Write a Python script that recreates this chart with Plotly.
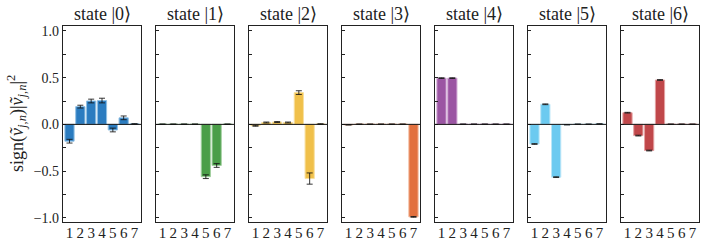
import plotly.graph_objects as go

components = [1, 2, 3, 4, 5, 6, 7]
state_names = ["state |0⟩", "state |1⟩", "state |2⟩", "state |3⟩", "state |4⟩", "state |5⟩", "state |6⟩"]

state0 = [-0.18, 0.19, 0.25, 0.255, -0.06, 0.07, 0.005]
state1 = [0.002, 0.002, 0.002, 0.002, -0.56, -0.44, 0.002]
state2 = [-0.015, 0.02, 0.025, 0.02, 0.34, -0.58, 0.004]
state3 = [-0.005, 0.002, 0.002, 0.002, 0.002, 0.002, -0.99]
state4 = [0.495, 0.495, 0.002, 0.002, 0.002, 0.002, 0.002]
state5 = [-0.21, 0.215, -0.565, -0.004, 0.002, 0.002, 0.005]
state6 = [0.125, -0.12, -0.28, 0.475, 0.002, 0.002, 0.002]

err0 = [0.02, 0.015, 0.02, 0.025, 0.02, 0.02, 0.002]
err1 = [0.002, 0.002, 0.002, 0.002, 0.02, 0.02, 0.002]
err2 = [0.005, 0.005, 0.005, 0.005, 0.02, 0.06, 0.002]
err3 = [0.002, 0.002, 0.002, 0.002, 0.002, 0.002, 0.004]
err4 = [0.004, 0.004, 0.001, 0.001, 0.001, 0.001, 0.001]
err5 = [0.004, 0.004, 0.004, 0.001, 0.001, 0.001, 0.001]
err6 = [0.004, 0.004, 0.004, 0.004, 0.001, 0.001, 0.001]

y_tickvals = [-1.0, -0.5, 0.0, 0.5, 1.0]
y_ticktext = ["−1.0", "−0.5", "0.0", "0.5", "1.0"]

values = [state0, state1, state2, state3, state4, state5, state6]
errors = [err0, err1, err2, err3, err4, err5, err6]

colors = ["#2b7cc0", "#4a9e48", "#f0c04a", "#e2703e", "#9b55a3", "#6ccaf0", "#c0474a"]
edge_colors = ["#8fbfe3", "#a3d0a0", "#f8e0a0", "#f2b596", "#cfa6d3", "#b9e6f8", "#e4a0a2"]

W, H = 706, 247
panels = [(63, 141), (156, 234), (249, 327), (342, 420), (435, 513), (528, 606), (621, 699)]
font_family = "Liberation Serif"

fig = go.Figure()
layout = dict(
    width=W, height=H,
    margin=dict(l=0, r=0, t=26, b=25),
    plot_bgcolor="white", paper_bgcolor="white",
    showlegend=False,
    font=dict(family=font_family, size=14, color="#222"),
)
annotations = []
shapes = []
for i in range(7):
    xa = "x" if i == 0 else f"x{i+1}"
    ya = "y" if i == 0 else f"y{i+1}"
    fig.add_trace(go.Bar(
        x=components, y=values[i], xaxis=xa, yaxis=ya, width=0.85,
        marker=dict(color=colors[i], line=dict(color=edge_colors[i], width=1)),
        error_y=dict(type="data", array=errors[i], color="rgba(20,20,20,0.85)", thickness=1, width=3),
    ))
    x0, x1 = panels[i]
    layout["xaxis" if i == 0 else f"xaxis{i+1}"] = dict(
        domain=[x0 / W, x1 / W], range=[0.4, 7.6], anchor=ya,
        tickmode="array", tickvals=components, ticktext=[str(c) for c in components],
        ticks="", ticklabelstandoff=-3, showgrid=False, zeroline=False, showline=True, mirror=True,
        linecolor="#222", linewidth=1.2, tickfont=dict(size=15, family=font_family),
    )
    yax = dict(
        domain=[0, 1], range=[-1.045, 1.053], anchor=xa,
        tickmode="array", tickvals=y_tickvals,
        showticklabels=(i == 0),
        ticks="inside", ticklen=3, tickcolor="#222",
        minor=dict(tickvals=[-0.75, -0.25, 0.25, 0.75], ticks="inside", ticklen=3, tickcolor="#222"),
        showgrid=False, zeroline=False, showline=True, mirror=True,
        linecolor="#222", linewidth=1.2, tickfont=dict(size=14, family=font_family),
    )
    if i == 0:
        yax["ticktext"] = y_ticktext
    layout["yaxis" if i == 0 else f"yaxis{i+1}"] = yax
    shapes.append(dict(type="line", xref=f"{xa} domain", yref=ya, x0=0, x1=1, y0=0, y1=0,
                       line=dict(color="#111", width=1)))
    annotations.append(dict(text=state_names[i], x=(x0 + x1) / 2 / W, y=1, xref="paper", yref="paper",
                            yanchor="bottom", xanchor="center", yshift=0, showarrow=False,
                            font=dict(size=18, family=font_family, color="#222")))

annotations.append(dict(
    text="sign(<i>ṽ</i><sub><i>j,n</i></sub>)|<i>ṽ</i><sub><i>j,n</i></sub>|<sup>2</sup>",
    x=16 / W, y=0.5, xref="paper", yref="paper", textangle=-90, showarrow=False,
    xanchor="center", yanchor="middle", font=dict(size=18, family=font_family, color="#222")))

layout["annotations"] = annotations
layout["shapes"] = shapes
fig.update_layout(**layout)
fig.write_html("out.html", config={"displayModeBar": False},
               post_script="document.body.style.margin='0';document.body.style.overflow='hidden';")
